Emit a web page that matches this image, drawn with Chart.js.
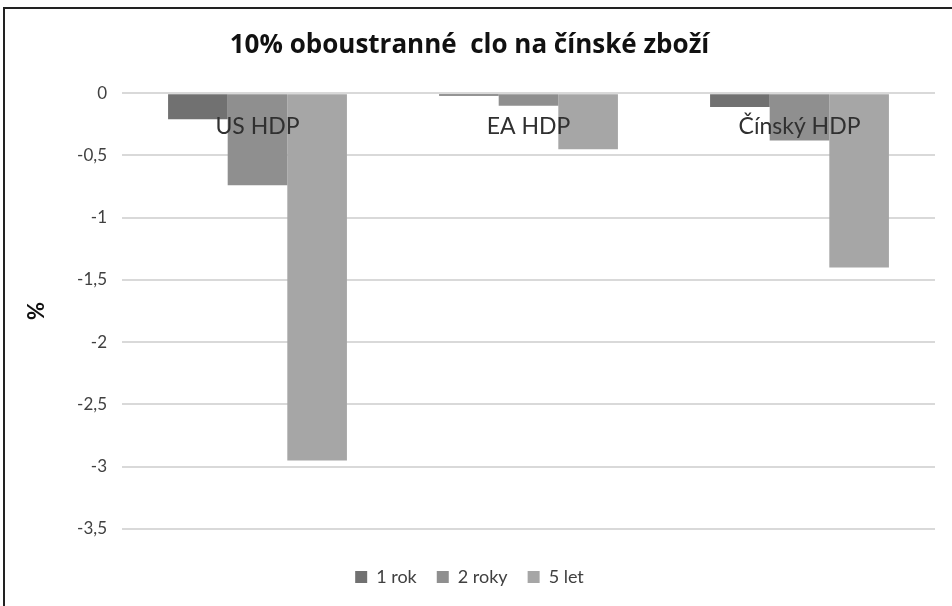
<!DOCTYPE html>
<html>
<head>
<meta charset="utf-8">
<script src="https://cdn.jsdelivr.net/npm/chart.js@4.4.1/dist/chart.umd.min.js"></script>
<style>
  html, body { margin: 0; padding: 0; background: #fff; }
  #wrap { position: relative; width: 952px; height: 606px; overflow: hidden; }
  #frame { position: absolute; left: 3px; top: 7px; width: 970px; height: 630px; border: 2px solid #222; box-sizing: border-box; pointer-events: none; }
  #chart { position: absolute; left: 0; top: 0; }
</style>
</head>
<body>
<div id="wrap">
  <canvas id="chart" width="952" height="606"></canvas>
  <div id="frame"></div>
</div>
<script>
// 10% oboustranné clo – dopad na HDP
const categories = ['US HDP', 'EA HDP', 'Čínský HDP'];
const seriesNames = ['1 rok', '2 roky', '5 let'];
const rok1 = [-0.21, -0.02, -0.11];
const roky2 = [-0.74, -0.10, -0.38];
const let5 = [-2.95, -0.45, -1.40];
const colors = ['#717171', '#8f8f8f', '#a6a6a6'];

const font = 'Lato, "Open Sans", sans-serif';

const ctx = document.getElementById('chart');

new Chart(ctx, {
  type: 'bar',
  data: {
    labels: categories,
    datasets: [rok1, roky2, let5].map((vals, i) => ({
      label: seriesNames[i],
      data: vals,
      backgroundColor: colors[i],
      borderWidth: 0,
      categoryPercentage: 0.66,
      barPercentage: 1
    }))
  },
  options: {
    responsive: false,
    animation: false,
    layout: { padding: { left: 4, right: 17, top: 0, bottom: 10 } },
    plugins: {
      title: {
        display: true,
        text: '10% oboustranné  clo na čínské zboží',
        color: '#111',
        font: { family: '"Open Sans", sans-serif', size: 26, weight: 'bold' },
        padding: { top: 30, bottom: 32 }
      },
      legend: {
        position: 'bottom',
        labels: {
          color: '#404040',
          font: { family: font, size: 18 },
          boxWidth: 12,
          boxHeight: 12,
          padding: 20
        }
      },
      tooltip: { enabled: false }
    },
    scales: {
      x: {
        position: { y: 0 },
        grid: { display: false, drawTicks: false },
        border: { display: false },
        ticks: {
          z: 1,
          color: '#303030',
          font: { family: font, size: 23 },
          padding: 20
        }
      },
      // empty box that keeps room between plot and legend
      x2: {
        type: 'category',
        position: 'bottom',
        grid: { display: false, drawTicks: false },
        border: { display: false },
        ticks: { display: false },
        afterFit: (s) => { s.height = 19; }
      },
      y: {
        min: -3.5,
        max: 0,
        afterFit: (s) => { s.width = 118; },
        grid: { color: '#d9d9d9', lineWidth: 2, drawTicks: false },
        border: { display: false },
        title: {
          display: true,
          text: '%',
          color: '#111',
          font: { family: font, size: 22, weight: 'bold' },
          padding: { top: 20, bottom: 0 }
        },
        ticks: {
          stepSize: 0.5,
          padding: 15,
          color: '#404040',
          font: { family: font, size: 17 },
          callback: (v) => String(v).replace('.', ',')
        }
      }
    }
  }
});
</script>
</body>
</html>
